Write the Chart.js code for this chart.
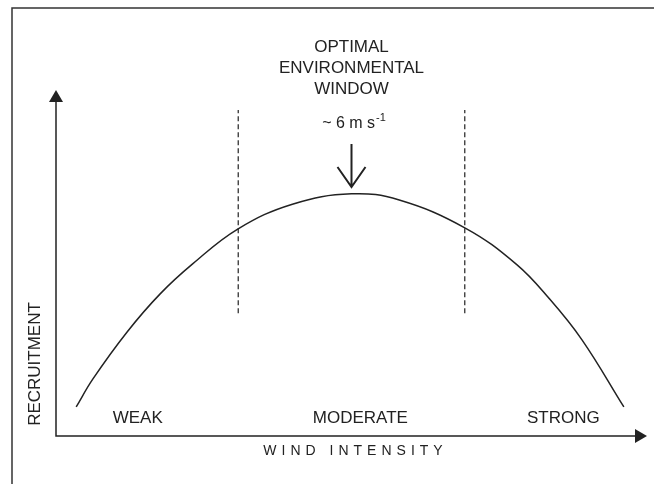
<!DOCTYPE html>
<html>
<head>
<meta charset="utf-8">
<script src="https://cdn.jsdelivr.net/npm/chart.js@4"></script>
<style>
  html, body { margin: 0; padding: 0; background: #fff; }
  #wrap { width: 654px; height: 484px; position: relative; }
</style>
</head>
<body>
<div id="wrap"><canvas id="recruitChart"></canvas></div>
<script>
// Recruitment vs wind intensity (optimal environmental window)
const windSpeed   = [0.41, 0.75, 1.44, 2.11, 2.78, 3.69, 4.80, 6.0, 6.97, 8.31, 9.35, 10.01, 10.68, 11.53];
const recruitment = [8.4, 16.5, 30.0, 41.0, 49.8, 59.8, 67.0, 70.0, 68.2, 60.1, 49.6, 39.8, 27.8, 8.4];

const windowEdges = [3.7, 8.3];     // dashed bounds of the optimal window
const windowSpan  = [35.5, 94.2];   // vertical extent of the dashed lines
const optimum     = 6;

const categories  = ['WEAK', 'MODERATE', 'STRONG'];
const categoryX   = [1.66, 6.18, 10.3];

const xTitle = 'WIND INTENSITY';
const yTitle = 'RECRUITMENT';
const windowTitle = ['OPTIMAL', 'ENVIRONMENTAL', 'WINDOW'];

const INK = '#222';
const FONT = '"Liberation Sans", Arial, Helvetica, sans-serif';

const decorations = {
    id: 'decorations',
    beforeDraw(chart) {
        const c = chart.ctx;
        // partial frame around the figure
        c.save();
        c.strokeStyle = '#333';
        c.lineWidth = 1.5;
        c.beginPath();
        c.moveTo(12, 484);
        c.lineTo(12, 8);
        c.lineTo(654, 8);
        c.stroke();
        c.restore();
    },
    afterDraw(chart) {
        const c = chart.ctx;
        const { left, right, top, bottom } = chart.chartArea;
        const xs = chart.scales.x;

        c.save();
        c.strokeStyle = INK;
        c.fillStyle = INK;
        c.lineWidth = 1.5;

        // axes with arrow heads
        c.beginPath();
        c.moveTo(left, top + 11);
        c.lineTo(left, bottom);
        c.lineTo(right - 11, bottom);
        c.stroke();

        c.beginPath();
        c.moveTo(left, top);
        c.lineTo(left - 7, top + 12);
        c.lineTo(left + 7, top + 12);
        c.closePath();
        c.fill();

        c.beginPath();
        c.moveTo(right, bottom);
        c.lineTo(right - 12, bottom - 7);
        c.lineTo(right - 12, bottom + 7);
        c.closePath();
        c.fill();

        // category labels
        c.font = `17px ${FONT}`;
        c.textAlign = 'center';
        c.textBaseline = 'middle';
        categories.forEach((lab, i) => {
            c.fillText(lab, xs.getPixelForValue(categoryX[i]), bottom - 18);
        });

        // x title, letter spaced
        c.font = `14px ${FONT}`;
        const sp = 5;
        c.letterSpacing = sp + 'px';
        c.textAlign = 'left';
        const w = c.measureText(xTitle).width;
        c.fillText(xTitle, 353 - (w - sp) / 2, bottom + 15);
        c.letterSpacing = '0px';

        // y title
        c.font = `17px ${FONT}`;
        c.textAlign = 'center';
        c.save();
        c.translate(35, 364);
        c.rotate(-Math.PI / 2);
        c.fillText(yTitle, 0, 0);
        c.restore();

        // optimal window heading
        const px = xs.getPixelForValue(optimum);
        windowTitle.forEach((t, i) => c.fillText(t, px, 47 + i * 21));

        // "~ 6 m s-1"
        const main = `~ ${optimum} m s`;
        c.font = `16px ${FONT}`;
        const mw = c.measureText(main).width;
        c.font = `11px ${FONT}`;
        const sw = c.measureText('-1').width;
        const x0 = px - (mw + sw) / 2 + 2;
        c.textAlign = 'left';
        c.font = `16px ${FONT}`;
        c.fillText(main, x0, 124);
        c.font = `11px ${FONT}`;
        c.fillText('-1', x0 + mw + 1, 118);

        // down arrow to the optimum
        c.lineWidth = 2;
        c.beginPath();
        c.moveTo(px, 144);
        c.lineTo(px, 186);
        c.moveTo(px - 14, 167);
        c.lineTo(px, 187);
        c.lineTo(px + 14, 167);
        c.stroke();
        c.restore();
    }
};

const curve = windSpeed.map((x, i) => ({ x, y: recruitment[i] }));
const edgeSets = windowEdges.map(x => ({
    data: windowSpan.map(y => ({ x, y })),
    showLine: true,
    borderColor: INK,
    borderWidth: 1.2,
    borderDash: [5, 3],
    pointRadius: 0
}));

new Chart(document.getElementById('recruitChart'), {
    type: 'scatter',
    data: {
        datasets: [
            {
                data: curve,
                showLine: true,
                borderColor: INK,
                borderWidth: 1.5,
                tension: 0.4,
                pointRadius: 0
            },
            ...edgeSets
        ]
    },
    options: {
        responsive: true,
        maintainAspectRatio: false,
        animation: false,
        layout: { padding: { left: 56, right: 7, top: 90, bottom: 48 } },
        plugins: {
            legend: { display: false },
            tooltip: { enabled: false }
        },
        scales: {
            x: { type: 'linear', min: 0, max: 12, display: false },
            y: { type: 'linear', min: 0, max: 100, display: false }
        }
    },
    plugins: [decorations]
});
</script>
</body>
</html>
